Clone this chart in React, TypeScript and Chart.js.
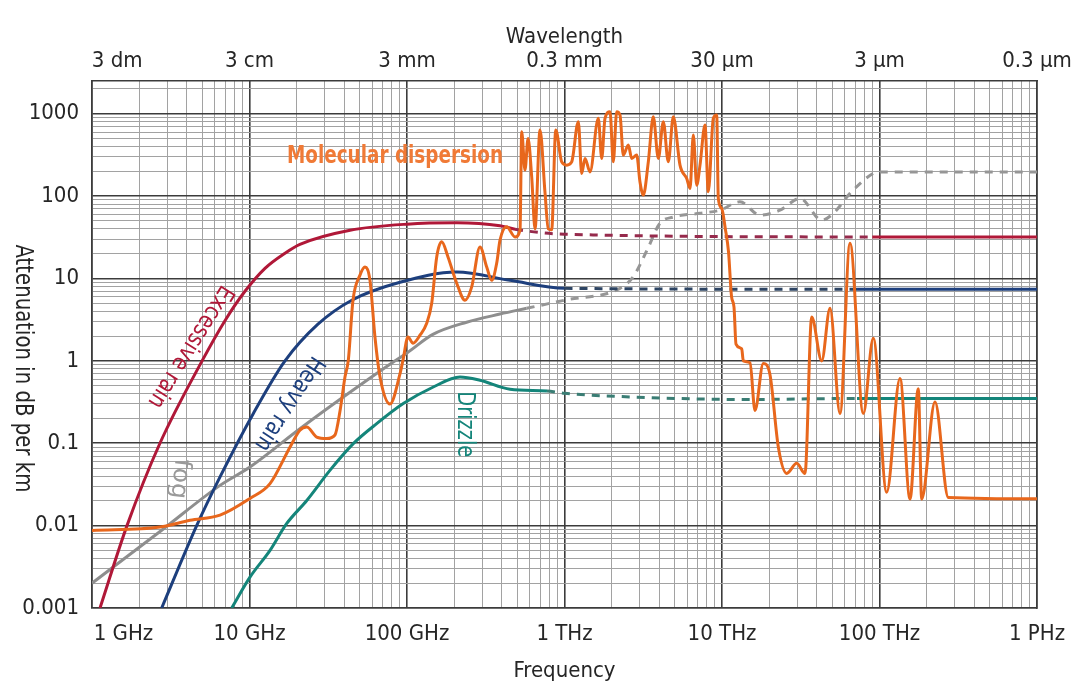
import React, { useEffect, useRef } from 'react';
import { Chart, registerables } from 'chart.js';

Chart.register(...registerables);

// ---------- axis ticks ----------
const frequencyTicks = [1, 10, 100, 1000, 10000, 100000, 1000000]; // GHz
const frequencyLabels = ['1 GHz', '10 GHz', '100 GHz', '1 THz', '10 THz', '100 THz', '1 PHz'];
const wavelengthLabels = ['3 dm', '3 cm', '3 mm', '0.3 mm', '30 µm', '3 µm', '0.3 µm'];
const attenuationTicks = [0.001, 0.01, 0.1, 1, 10, 100, 1000];
const attenuationLabels = ['0.001', '0.01', '0.1', '1', '10', '100', '1000'];

// ---------- series (frequency in GHz, attenuation in dB/km) ----------
const molecularFreq = [1, 2.7, 4.19, 6.5, 10.07, 13.5, 18.1, 20.9, 23.1, 26.7, 30.9, 34.9, 37.6, 40.4, 42.4, 45.4, 50.3, 54.1, 58.2, 62.6, 67.4, 78, 90.3, 94.3, 101.5, 109.2, 120.9, 133.4, 143.5, 154.4, 166.1, 182.1, 206.8, 233.5, 257.5, 290.7, 320.7, 345, 371, 389.5, 429.5, 485, 522, 535, 561, 587, 619, 650, 699, 752, 789, 829, 880, 960, 1033, 1111, 1224, 1286, 1350, 1452, 1640, 1723, 1808, 1945, 2041, 2145, 2251, 2362, 2542, 2672, 2873, 3015, 3165, 3405, 3663, 3941, 4240, 4560, 4907, 5412, 5969, 6266, 6575, 6910, 7250, 7801, 8185, 8808, 9255, 9474, 9956, 10500, 11000, 11500, 11918, 12272, 13339, 13654, 15057, 16200, 18289, 20173, 22778, 25750, 29800, 33650, 37110, 42950, 48500, 56150, 64960, 78900, 91300, 111100, 134900, 156200, 176300, 185300, 225100, 273500, 1000000];
const molecularDb = [0.0087, 0.0096, 0.0116, 0.0134, 0.0214, 0.0323, 0.09, 0.144, 0.157, 0.119, 0.114, 0.126, 0.25, 0.64, 1.02, 5.45, 11.0, 13.8, 9.5, 1.95, 0.64, 0.30, 0.70, 1.02, 1.95, 1.64, 2.05, 2.86, 5.0, 18.3, 27.9, 18.3, 8.77, 5.45, 7.91, 24.2, 13.8, 9.5, 15.3, 29.2, 42.4, 32, 38.6, 605, 207, 500, 172, 40, 634, 110, 40, 39, 634, 261, 238, 261, 800, 189, 287, 197, 880, 287, 880, 1057, 261, 1057, 965, 315, 417, 287, 315, 149, 103, 261, 919, 287, 800, 261, 919, 238, 164, 124, 551, 136, 238, 729, 113, 880, 965, 93.8, 70.9, 40, 21, 6, 4.5, 1.6, 1.4, 1.0, 0.95, 0.25, 0.93, 0.68, 0.09, 0.043, 0.057, 0.043, 3.4, 1.0, 4.36, 0.23, 26.8, 0.23, 1.88, 0.0255, 0.61, 0.021, 0.46, 0.021, 0.317, 0.022, 0.0212];

const excessiveRainFreq = [1.124, 1.668, 2.7, 5.0, 7.0, 9.36, 12.54, 16.8, 20.9, 43.5, 100, 207, 389.5, 485, 1000, 90000, 1000000];
const excessiveRainDb = [0.001, 0.01, 0.1, 1, 3.1, 7.0, 13.3, 20.3, 26.0, 38.6, 45.7, 47.4, 43.6, 39.7, 34.5, 32, 32];
const excessiveRainDashed = [485, 90000];

const heavyRainFreq = [2.77, 4.62, 6.5, 10.58, 16.8, 27.2, 44.6, 90.3, 207, 451, 1000, 72000, 1000000];
const heavyRainDb = [0.001, 0.01, 0.039, 0.23, 1.0, 2.79, 5.45, 9.0, 12.0, 9.5, 7.6, 7.4, 7.4];
const heavyRainDashed = [1000, 72000];

const fogFreq = [1, 2.77, 6.5, 10.07, 20.9, 39.4, 81.8, 100, 146, 239, 389, 575, 1000, 2250, 2723, 3342, 4040, 4885, 7250, 9710, 13000, 17420, 23350, 31270, 42950, 50900, 65000, 91400, 100700, 1000000];
const fogDb = [0.002, 0.0088, 0.0308, 0.0514, 0.15, 0.364, 0.97, 1.25, 2.1, 2.95, 3.7, 4.35, 5.45, 7.6, 10.4, 22.1, 47, 55.6, 62, 67.6, 85.3, 58.8, 67.6, 93.8, 51.1, 61.6, 108, 189, 197, 197];
const fogDashed = [575, 1000000];

const drizzleFreq = [7.71, 10.07, 13.5, 17.2, 23.1, 32.4, 45.6, 64.2, 94.7, 146.9, 217, 290.7, 451, 774, 1000, 2723, 14420, 72000, 1000000];
const drizzleDb = [0.001, 0.00237, 0.005, 0.01055, 0.0202, 0.0469, 0.0989, 0.173, 0.303, 0.482, 0.637, 0.581, 0.452, 0.43, 0.404, 0.364, 0.34, 0.35, 0.35];
const drizzleDashed = [774, 72000];

// ---------- styling ----------
const FONT = "'DejaVu Sans Condensed', 'Liberation Sans Narrow', sans-serif";
const TEXT = '#262626';
const MAJOR = '#3c3c3c';
const MINOR = '#a2a2a2';

const curveLabels = [
  { text: 'Molecular dispersion', freq: 83.9, db: 300, angle: 0, color: '#f07a36', bold: true, width: 216 },
  { text: 'Excessive rain', freq: 4.2, db: 1.5, angle: 122, color: '#b01838', bold: false, width: 140 },
  { text: 'Heavy rain', freq: 17.8, db: 0.305, angle: 123, color: '#1d3f7d', bold: false, width: 108 },
  { text: 'fog', freq: 3.6, db: 0.037, angle: 97, color: '#9a9a9a', bold: false, width: 40 },
  { text: 'Drizzle', freq: 230, db: 0.17, angle: 90, color: '#14857a', bold: false, width: 66 },
];

const isDecade = (v: number) => {
  const l = Math.log10(v);
  return Math.abs(l - Math.round(l)) < 1e-6;
};
const decadeIndex = (v: number, list: number[]) =>
  list.findIndex((t) => Math.abs(Math.log10(v / t)) < 1e-6);

const gridValues = (min: number, max: number) => {
  const out: number[] = [];
  for (let e = Math.floor(Math.log10(min)); e <= Math.ceil(Math.log10(max)); e++) {
    for (let m = 1; m <= 9; m++) {
      const v = Number((m * Math.pow(10, e)).toPrecision(6));
      if (v >= min * 0.999999 && v <= max * 1.000001) out.push(v);
    }
  }
  return out;
};

const gridColor = (ctx: any) => (ctx.tick && isDecade(ctx.tick.value) ? MAJOR : MINOR);
const gridWidth = (ctx: any) => (ctx.tick && isDecade(ctx.tick.value) ? 1.6 : 1);

const makeDataset = (
  label: string,
  freq: number[],
  db: number[],
  color: string,
  dashColor: string,
  dashed: number[] | null,
) => {
  const inDash = (ctx: any) =>
    !!dashed && ctx.p0.parsed.x >= dashed[0] * 0.9999 && ctx.p1.parsed.x <= dashed[1] * 1.0001;
  return {
    label,
    data: freq.map((f, i) => ({ x: f, y: db[i] })),
    borderColor: color,
    backgroundColor: color,
    borderWidth: 3,
    pointRadius: 0,
    pointHoverRadius: 0,
    fill: false,
    cubicInterpolationMode: 'monotone' as const,
    segment: {
      borderDash: (ctx: any) => (inDash(ctx) ? [8, 7] : undefined),
      borderColor: (ctx: any) => (inDash(ctx) ? dashColor : undefined),
    },
  };
};

const drawFitted = (ctx: any, text: string, font: string, width: number) => {
  ctx.font = font;
  const w = ctx.measureText(text).width;
  ctx.scale(width / w, 1);
  ctx.fillText(text, 0, 0);
};

const labelPlugin = {
  id: 'curveLabels',
  afterDraw(chart: any) {
    const { ctx, scales } = chart;
    const xs = scales.x;
    const ys = scales.y;
    ctx.save();
    ctx.textAlign = 'center';
    ctx.textBaseline = 'middle';
    curveLabels.forEach((l) => {
      ctx.save();
      ctx.translate(xs.getPixelForValue(l.freq), ys.getPixelForValue(l.db));
      ctx.rotate((l.angle * Math.PI) / 180);
      ctx.fillStyle = l.color;
      drawFitted(ctx, l.text, `${l.bold ? 'bold ' : ''}24px ${FONT}`, l.width);
      ctx.restore();
    });
    // vertical axis title (reads top to bottom)
    const area = chart.chartArea;
    ctx.translate(area.left - 70, (area.top + area.bottom) / 2 + 24);
    ctx.rotate(Math.PI / 2);
    ctx.fillStyle = TEXT;
    drawFitted(ctx, 'Attenuation in dB per km', `24px ${FONT}`, 248);
    ctx.restore();
  },
};

export default function App() {
  const ref = useRef<HTMLCanvasElement>(null);

  useEffect(() => {
    if (!ref.current) return;
    const tickFont = { family: FONT, size: 22 };
    const titleFont = { family: FONT, size: 22, lineHeight: 1 };
    const chart = new Chart(ref.current, {
      type: 'line',
      data: {
        datasets: [
          makeDataset('Molecular dispersion', molecularFreq, molecularDb, '#e8671c', '#e8671c', null),
          makeDataset('Excessive rain', excessiveRainFreq, excessiveRainDb, '#b01838', '#962a4c', excessiveRainDashed),
          makeDataset('Heavy rain', heavyRainFreq, heavyRainDb, '#1d3f7d', '#2d4463', heavyRainDashed),
          makeDataset('Drizzle', drizzleFreq, drizzleDb, '#14857a', '#3a7d74', drizzleDashed),
          makeDataset('Fog', fogFreq, fogDb, '#8e8e8e', '#969696', fogDashed),
        ] as any,
      },
      options: {
        responsive: true,
        maintainAspectRatio: false,
        animation: false,
        devicePixelRatio: 1,
        events: [],
        layout: { padding: 0 },
        plugins: { legend: { display: false }, tooltip: { enabled: false } },
        scales: {
          x: {
            type: 'logarithmic',
            position: 'bottom',
            min: 1,
            max: 1000000,
            afterBuildTicks: (s: any) => {
              s.ticks = gridValues(1, 1000000).map((v) => ({ value: v }));
            },
            afterFit: (s: any) => {
              s.height = 76;
              s.paddingLeft = 0;
              s.paddingRight = 0;
            },
            grid: { color: gridColor, lineWidth: gridWidth, drawTicks: false },
            border: { display: true, color: MAJOR, width: 1.6 },
            ticks: {
              autoSkip: false,
              maxRotation: 0,
              minRotation: 0,
              padding: 13,
              color: TEXT,
              font: tickFont,
              callback: (v: any) => {
                const i = decadeIndex(Number(v), frequencyTicks);
                if (i < 0) return '';
                return i === 0 ? '          ' + frequencyLabels[i] : frequencyLabels[i];
              },
            },
            title: { display: true, text: 'Frequency', color: TEXT, font: titleFont, padding: { top: 0, bottom: 2 } },
          },
          x2: {
            type: 'logarithmic',
            position: 'top',
            min: 1,
            max: 1000000,
            afterBuildTicks: (s: any) => {
              s.ticks = frequencyTicks.map((v) => ({ value: v }));
            },
            afterFit: (s: any) => {
              s.height = 81;
              s.paddingLeft = 0;
              s.paddingRight = 0;
            },
            grid: { display: false, drawTicks: false },
            border: { display: true, color: MAJOR, width: 1.6 },
            ticks: {
              autoSkip: false,
              maxRotation: 0,
              minRotation: 0,
              padding: 7,
              color: TEXT,
              font: tickFont,
              callback: (v: any) => {
                const i = decadeIndex(Number(v), frequencyTicks);
                if (i < 0) return '';
                return i === 0 ? '        ' + wavelengthLabels[i] : wavelengthLabels[i];
              },
            },
            title: { display: true, text: 'Wavelength', color: TEXT, font: titleFont, padding: { top: 26, bottom: 0 } },
          },
          y: {
            type: 'logarithmic',
            position: 'left',
            min: 0.001,
            max: 2500,
            afterBuildTicks: (s: any) => {
              s.ticks = gridValues(0.001, 2500).map((v) => ({ value: v }));
            },
            afterFit: (s: any) => {
              s.width = 92;
              s.paddingTop = 0;
              s.paddingBottom = 0;
            },
            grid: { color: gridColor, lineWidth: gridWidth, drawTicks: false },
            border: { display: true, color: MAJOR, width: 1.6 },
            ticks: {
              autoSkip: false,
              padding: 13,
              color: TEXT,
              font: tickFont,
              callback: (v: any) => {
                const i = decadeIndex(Number(v), attenuationTicks);
                return i < 0 ? '' : attenuationLabels[i];
              },
            },
          },
          y2: {
            type: 'linear',
            position: 'right',
            min: 0,
            max: 1,
            afterFit: (s: any) => {
              s.width = 37;
              s.paddingTop = 0;
              s.paddingBottom = 0;
            },
            ticks: { display: false },
            grid: { display: false, drawTicks: false },
            border: { display: true, color: MAJOR, width: 1.6 },
          },
        },
      } as any,
      plugins: [labelPlugin],
    });
    return () => chart.destroy();
  }, []);

  return (
    <div style={{ position: 'fixed', left: 0, top: 0, width: 1074, height: 684, background: '#ffffff' }}>
      <canvas ref={ref} />
    </div>
  );
}
